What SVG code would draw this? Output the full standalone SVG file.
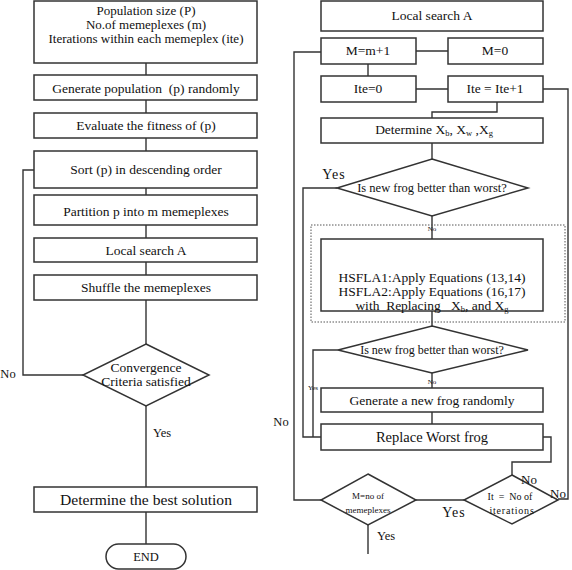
<svg xmlns="http://www.w3.org/2000/svg" width="572" height="570" viewBox="0 0 572 570">
<style>
.b{fill:#fff;stroke:#333;stroke-width:1.5}
.c{fill:none;stroke:#333;stroke-width:1.4}
.d{fill:none;stroke:#555;stroke-width:1;stroke-dasharray:1.5 1.5}
text{font-family:"Liberation Serif","Times New Roman",serif;fill:#111;text-anchor:middle}
.t13{font-size:13.5px}
.t15{font-size:15.6px}
.t14{font-size:13.5px}
.t11{font-size:12.5px}
.t9{font-size:9px}
.t7{font-size:7px}
.t12{font-size:12.5px}
.s{font-size:8.5px}
.p{white-space:pre}
</style>
<rect width="572" height="570" fill="#fff"/>
<g id="connectors">
<path class="c" d="M146 63V75M146 100V113M146 138V151M146 188V195M146 225V238M146 262V275M146 300V344M146 406V487M146 512V544"/>
<path class="c" d="M83 375H23V170H34"/>
<path class="c" d="M416 51H448M368 64V76M416 89H448M497 102V112H432V118M432 143V159M432 216V239M432 311V326M432 373V388M432 412V424"/>
<path class="c" d="M337 188H303V437H321M338 350H313V437"/>
<path class="c" d="M543 437H551V462H512V475"/>
<path class="c" d="M543 89H568V499H558"/>
<path class="c" d="M321 52H294V500H321"/>
<path class="c" d="M416 500H464M368 525V554"/>
<rect class="d" x="311" y="225" width="254" height="97"/>
</g>
<g id="n1"><rect class="b" x="34" y="1" width="223" height="62"/>
<text style="font-size:13px" x="146" y="15">Population size (P)</text>
<text style="font-size:13px" x="146" y="29">No.of memeplexes (m)</text>
<text style="font-size:13px" x="146" y="43">Iterations within each memeplex (ite)</text></g>
<g id="n2"><rect class="b" x="34" y="75" width="223" height="25"/><text class="t13 p" x="146" y="93">Generate population  (p) randomly</text></g>
<g id="n3"><rect class="b" x="34" y="113" width="223" height="25"/><text class="t13" x="146" y="130">Evaluate the fitness of (p)</text></g>
<g id="n4"><rect class="b" x="34" y="151" width="223" height="37"/><text class="t13" x="146" y="174">Sort (p) in descending order</text></g>
<g id="n5"><rect class="b" x="34" y="195" width="223" height="30"/><text class="t13" x="146" y="216">Partition p into m memeplexes</text></g>
<g id="n6"><rect class="b" x="34" y="238" width="223" height="24"/><text class="t13" x="146" y="255">Local search A</text></g>
<g id="n7"><rect class="b" x="34" y="275" width="223" height="25"/><text class="t13" x="146" y="292">Shuffle the memeplexes</text></g>
<g id="n8"><polygon class="b" points="146,344 209,375 146,406 83,375"/>
<text class="t13" x="146" y="372">Convergence</text><text class="t13" x="146" y="386">Criteria satisfied</text></g>
<g id="n9"><rect class="b" x="34" y="487" width="223" height="25"/><text class="t15" x="146" y="505">Determine the best solution</text></g>
<g id="n10"><rect class="b" x="106" y="544" width="80" height="25" rx="12.5"/><text class="t12" x="146" y="561">END</text></g>
<text class="t12" x="8" y="378">No</text>
<text class="t12" x="162" y="437">Yes</text>
<text class="t12" x="281" y="426">No</text>
<g id="r1"><rect class="b" x="321" y="1" width="222" height="30"/><text class="t13" x="432" y="20">Local search A</text></g>
<g id="r2"><rect class="b" x="321" y="38" width="95" height="26"/><text class="t13" x="368" y="55">M=m+1</text></g>
<g id="r3"><rect class="b" x="448" y="38" width="95" height="26"/><text class="t13" x="495" y="55">M=0</text></g>
<g id="r4"><rect class="b" x="321" y="76" width="95" height="26"/><text class="t13" x="368" y="93">Ite=0</text></g>
<g id="r5"><rect class="b" x="448" y="76" width="95" height="26"/><text class="t13" x="495" y="93">Ite = Ite+1</text></g>
<g id="r6"><rect class="b" x="321" y="118" width="222" height="25"/><text class="t13" x="434" y="134">Determine X<tspan class="s" dy="2">b</tspan><tspan dy="-2">, X</tspan><tspan class="s" dy="2">w</tspan><tspan dy="-2"> ,X</tspan><tspan class="s" dy="2">g</tspan></text></g>
<g id="r7"><polygon class="b" points="432,159 528,188 432,216 337,188"/><text class="t11" x="432" y="192">Is new frog better than worst?</text></g>
<g id="r8"><rect class="b" x="321" y="239" width="222" height="72"/>
<text class="t14" x="432" y="282">HSFLA1:Apply Equations (13,14)</text>
<text class="t14" x="432" y="296">HSFLA2:Apply Equations (16,17)</text>
<text class="t14 p" x="432" y="310">with  Replacing   X<tspan class="s" dy="2">b</tspan><tspan dy="-2">, and X</tspan><tspan class="s" dy="2">g</tspan></text></g>
<g id="r9"><polygon class="b" points="432,326 528,350 432,373 338,350"/><text style="font-size:12px" x="432" y="354">Is new frog better than worst?</text></g>
<g id="r10"><rect class="b" x="321" y="388" width="222" height="24"/><text class="t13" x="432" y="405">Generate a new frog randomly</text></g>
<g id="r11"><rect class="b" x="321" y="424" width="222" height="26"/><text style="font-size:14.5px" x="432" y="442">Replace Worst frog</text></g>
<g id="r12"><polygon class="b" points="368,474 416,500 368,525 321,500"/><text class="t9" x="368" y="499">M=no of</text><text class="t9" x="368" y="513">memeplexes</text></g>
<g id="r13"><polygon class="b" points="512,475 558,500 512,524 464,500"/><text class="p" style="font-size:10px" x="510" y="500">It  =  No of</text><text style="font-size:10px;letter-spacing:0.8px" x="512" y="514">iterations</text></g>
<text style="font-size:14px;letter-spacing:1px" x="334" y="179">Yes</text>
<text class="t7" x="432" y="231">No</text>
<text class="t7" x="432" y="384">No</text>
<text class="t7" x="313" y="390">Yes</text>
<text style="font-size:13px" x="529" y="484">No</text>
<text style="font-size:13px" x="558" y="498">No</text>
<text style="font-size:14px;letter-spacing:1px" x="454" y="517">Yes</text>
<text class="t12" x="386" y="540">Yes</text>
</svg>
